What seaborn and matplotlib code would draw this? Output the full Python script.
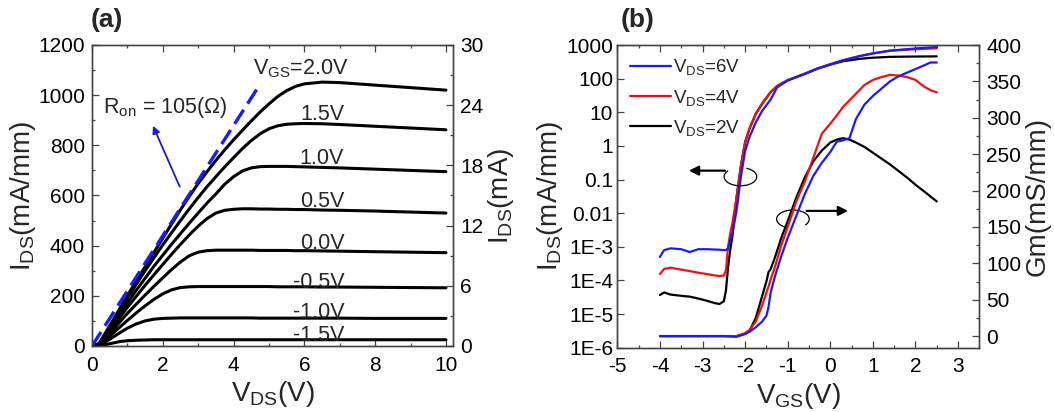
import numpy as np
import pandas as pd
import matplotlib
matplotlib.use("Agg")
import matplotlib.pyplot as plt
import seaborn as sns
from matplotlib.lines import Line2D
from matplotlib.patches import Arc
from matplotlib.ticker import MultipleLocator, FixedLocator, FixedFormatter, LogLocator, NullFormatter

# ---- panel (a): output curves, Ids (mA/mm) vs Vds (V)
vds = [0, 0.2, 0.4, 0.6, 0.8, 1.0, 1.25, 1.5, 1.75, 2.0, 2.25, 2.5, 2.75, 3.0, 3.25,
       3.5, 3.75, 4.0, 4.25, 4.5, 4.75, 5.0, 5.25, 5.5, 5.75, 6.0, 6.5, 7.0, 8.0, 9.0, 10.0]
vgs_labels = ['2.0V', '1.5V', '1.0V', '0.5V', '0.0V', '-0.5V', '-1.0V', '-1.5V']
ids_20 = [0, 10, 57, 105, 153, 201, 259, 316, 373, 430, 487, 543, 597, 648, 695,
          740, 782, 822, 860, 897, 933, 965, 995, 1018, 1035, 1045, 1052, 1050, 1040, 1030, 1020]
ids_15 = [0, 9, 52, 98, 144, 190, 246, 300, 352, 403, 452, 500, 547, 592, 635,
          675, 714, 751, 787, 819, 846, 866, 878, 884, 886, 887, 886, 883, 876, 869, 862]
ids_10 = [0, 8, 45, 87, 130, 172, 222, 270, 318, 362, 406, 448, 490, 530, 570,
          606, 645, 675, 698, 710, 715, 716, 716, 716, 715, 714, 712, 710, 705, 700, 695]
ids_05 = [0, 7, 40, 78, 116, 154, 198, 242, 284, 325, 366, 405, 443, 478, 508,
          530, 541, 545, 547, 547, 546, 546, 545, 545, 544, 544, 542, 541, 538, 534, 530]
ids_00 = [0, 6, 34, 66, 98, 130, 167, 203, 238, 272, 305, 335, 360, 374, 380,
          382, 382, 382, 382, 382, 381, 381, 381, 381, 380, 380, 379, 378, 376, 374, 372]
ids_m05 = [0, 5, 27, 52, 77, 102, 132, 160, 186, 208, 224, 233, 236, 237, 237,
           237, 237, 237, 237, 237, 237, 237, 236, 236, 236, 236, 235, 235, 234, 233, 232]
ids_m10 = [0, 3, 18, 36, 54, 71, 88, 100, 107, 110, 111, 112, 112, 112, 112,
           112, 112, 112, 112, 112, 111, 111, 111, 111, 111, 111, 111, 111, 110, 110, 110]
ids_m15 = [0, 1, 6, 12, 18, 21, 23, 24, 25, 25, 25, 25, 25, 25, 25,
           25, 25, 25, 25, 25, 25, 25, 25, 25, 25, 25, 25, 25, 25, 25, 25]
out_curves = [ids_20, ids_15, ids_10, ids_05, ids_00, ids_m05, ids_m10, ids_m15]
label_pos = [(4.55, 1104), (6.5, 921), (6.5, 749), (6.5, 575), (6.5, 410),
             (6.4, 255), (6.4, 134), (6.4, 40)]
ron_line_x = [0, 4.65]
ron_line_y = [0, 1022]

# ---- panel (b): transfer curves, Ids (log) and Gm vs Vgs
vgs_i = [-4.0, -3.9, -3.75, -3.5, -3.3, -3.1, -2.9, -2.7, -2.6, -2.5, -2.45, -2.4,
         -2.35, -2.3, -2.2, -2.1, -2.0, -1.9, -1.75, -1.6, -1.4, -1.25, -1.0,
         -0.65, -0.3, 0.0, 0.3, 0.7, 1.0, 1.4, 2.0, 2.5]
ids_6v = [5e-4, 8e-4, 9e-4, 8.5e-4, 7e-4, 8.5e-4, 8.5e-4, 8.3e-4, 8.2e-4, 8e-4, 8e-4, 9e-4,
          1.6e-3, 2.5e-3, 1.2e-2, 0.12, 0.7, 1.8, 5, 11, 24, 55, 88,
          130, 198, 265, 350, 470, 560, 680, 790, 880]
ids_4v = [1.55e-4, 2.2e-4, 2.4e-4, 2.1e-4, 1.9e-4, 1.7e-4, 1.55e-4, 1.4e-4, 1.35e-4, 1.4e-4, 2e-4, 1e-3,
          2.5e-3, 5e-3, 3e-2, 0.25, 1.3, 3.2, 9, 18, 40, 60, 90,
          132, 202, 270, 355, 475, 565, 680, 750, 800]
ids_2v = [3.7e-5, 4.4e-5, 3.8e-5, 3.5e-5, 3.3e-5, 2.9e-5, 2.5e-5, 2.1e-5, 2.0e-5, 2.4e-5, 5e-5, 2.5e-4,
          8e-4, 2e-3, 3e-2, 0.25, 1.3, 3.2, 9, 18, 40, 60, 90,
          132, 200, 262, 330, 390, 420, 445, 455, 460]

vgs_g = [-4.0, -3.0, -2.5, -2.2, -2.0, -1.9, -1.75, -1.6, -1.5, -1.45, -1.4, -1.3,
         -1.15, -1.0, -0.8, -0.6, -0.4, -0.2, 0.0, 0.15, 0.3, 0.45, 0.6, 0.8, 1.0,
         1.2, 1.4, 1.6, 1.8, 2.0, 2.2, 2.35, 2.5]
gm_6v = [0, 0, 0, -1, 3, 6, 12, 20, 28, 40, 60, 82, 110, 135, 165, 195, 220, 238,
         253, 267, 269, 272, 298, 318, 330, 340, 350, 357, 362, 367, 372, 376, 376]
gm_4v = [0, 0, 0, 0, 4, 8, 20, 42, 60, 68, 78, 95, 125, 150, 185, 212, 245, 278,
         292, 303, 315, 324, 333, 345, 352, 356, 359, 358, 356, 352, 343, 338, 335]
gm_2v = [0, 0, 0, 0, 3, 7, 25, 55, 75, 88, 92, 108, 135, 158, 190, 218, 240, 255,
         266, 270, 272, 270, 266, 260, 252, 244, 236, 227, 218, 208, 199, 192, 185]
log_ticks = [1e-6, 1e-5, 1e-4, 1e-3, 1e-2, 1e-1, 1, 10, 100, 1000]
log_tick_labels = ['1E-6', '1E-5', '1E-4', '1E-3', '0.01', '0.1', '1', '10', '100', '1000']

sns.set_style("ticks")
plt.rcParams['font.family'] = ['Liberation Sans', 'DejaVu Sans']
plt.rcParams['mathtext.fontset'] = 'custom'
plt.rcParams['mathtext.rm'] = 'Liberation Sans'
plt.rcParams['axes.unicode_minus'] = False
SP = '#444444'
TICK_FS = 15
LAB_FS = 20
TXT_FS = 15.5


def style_axis(ax):
    for s in ax.spines.values():
        s.set_color(SP)
        s.set_linewidth(1.0)
    ax.tick_params(which='both', direction='in', colors=SP, labelcolor='black',
                   labelsize=TICK_FS, width=0.9, pad=5)
    ax.tick_params(which='major', length=5)
    ax.tick_params(which='minor', length=2.5)
    ax.tick_params(axis='x', which='both', pad=7)


fig = plt.figure(figsize=(10.54, 4.12), dpi=100)
ax_a = fig.add_axes([0.0873, 0.1602, 0.3425, 0.7306])
ax_b = fig.add_axes([0.5857, 0.156, 0.3435, 0.7347])

# ---------------- (a)
for ys in out_curves:
    sns.lineplot(x=vds, y=ys, ax=ax_a, color='black', lw=2.2, legend=False)
ax_a.plot(ron_line_x, ron_line_y, color='#1a1aff', lw=2.4, dashes=(5, 2.2), zorder=3)
ax_a.set_xlim(0, 10.2)
ax_a.set_ylim(0, 1200)
ax_a.xaxis.set_major_locator(MultipleLocator(2))
ax_a.xaxis.set_minor_locator(MultipleLocator(1))
ax_a.yaxis.set_major_locator(MultipleLocator(200))
ax_a.yaxis.set_minor_locator(MultipleLocator(100))
style_axis(ax_a)
ax_a.tick_params(which='both', top=True, right=False)
ax_a.set_xlabel(r'$\mathregular{V_{DS}}$(V)', fontsize=LAB_FS, labelpad=3)
ax_a.set_ylabel(r'$\mathregular{I_{DS}}$(mA/mm)', fontsize=LAB_FS, labelpad=0)

for lbl, (tx, ty) in zip(vgs_labels, label_pos):
    if lbl == '2.0V':
        ax_a.text(tx, ty, r'$\mathregular{V_{GS}}$=2.0V', fontsize=TXT_FS, ha='left', va='center')
    else:
        ax_a.text(tx, ty, lbl, fontsize=TXT_FS, ha='center', va='center')
ax_a.text(0.3, 950, r'$\mathregular{R_{on}}$ = 105($\Omega$)', fontsize=TXT_FS, ha='left', va='center')
ax_a.annotate('', xy=(1.69, 888), xytext=(2.51, 625),
              arrowprops=dict(arrowstyle='-|>', color='#1a1acc', lw=1.3, mutation_scale=11))

ax_a2 = ax_a.twinx()
ax_a2.set_ylim(0, 30)
ax_a2.yaxis.set_major_locator(MultipleLocator(6))
ax_a2.yaxis.set_minor_locator(MultipleLocator(3))
style_axis(ax_a2)
ax_a2.tick_params(which='both', left=False, top=False)
ax_a2.set_ylabel(r'$\mathregular{I_{DS}}$(mA)', fontsize=LAB_FS, labelpad=2)

# ---------------- (b)
ax_b2 = ax_b.twinx()
for ys, c in [(ids_2v, 'black'), (ids_4v, '#ee1111'), (ids_6v, '#1a1aff')]:
    sns.lineplot(x=vgs_i, y=ys, ax=ax_b, color=c, lw=1.6, legend=False)
for ys, c in [(gm_2v, 'black'), (gm_4v, '#ee1111'), (gm_6v, '#1a1aff')]:
    sns.lineplot(x=vgs_g, y=ys, ax=ax_b2, color=c, lw=1.6, legend=False)

ax_b.set_yscale('log')
ax_b.set_ylim(1e-6, 1000)
ax_b.yaxis.set_major_locator(FixedLocator(log_ticks))
ax_b.yaxis.set_major_formatter(FixedFormatter(log_tick_labels))
ax_b.yaxis.set_minor_locator(LogLocator(base=10, subs=np.arange(2, 10)))
ax_b.yaxis.set_minor_formatter(NullFormatter())
ax_b.set_xlim(-5, 3.5)
ax_b.xaxis.set_major_locator(MultipleLocator(1))
ax_b.xaxis.set_minor_locator(MultipleLocator(0.5))
style_axis(ax_b)
ax_b.tick_params(which='both', top=True, right=False)
ax_b.tick_params(axis='y', which='both', pad=3)
ax_b.set_xlabel(r'$\mathregular{V_{GS}}$(V)', fontsize=LAB_FS, labelpad=3)
ax_b.set_ylabel(r'$\mathregular{I_{DS}}$(mA/mm)', fontsize=LAB_FS, labelpad=1)

ax_b2.set_ylim(-16, 400)
ax_b2.yaxis.set_major_locator(MultipleLocator(50))
ax_b2.yaxis.set_minor_locator(MultipleLocator(25))
style_axis(ax_b2)
ax_b2.tick_params(which='both', left=False, top=False)
ax_b2.set_ylabel('Gm(mS/mm)', fontsize=LAB_FS, labelpad=2)

handles = [Line2D([], [], color='#1a1aff', lw=1.6),
           Line2D([], [], color='#ee1111', lw=1.6),
           Line2D([], [], color='black', lw=1.6)]
ax_b2.legend(handles, [r'$\mathregular{V_{DS}}$=6V', r'$\mathregular{V_{DS}}$=4V',
                       r'$\mathregular{V_{DS}}$=2V'],
             loc='upper left', bbox_to_anchor=(0.0, 1.0), frameon=False,
             fontsize=13.5, handlelength=2.2, handletextpad=0.1, labelspacing=0.55,
             borderaxespad=0.25)

# curly markers pointing to each y axis
ax_b2.annotate('', xy=(0.19, 0.585), xytext=(0.305, 0.585), xycoords='axes fraction',
               arrowprops=dict(arrowstyle='-|>', color='black', lw=1.6, mutation_scale=14))
ax_b2.add_patch(Arc((0.34, 0.565), 0.09, 0.06, theta1=150, theta2=60,
                    transform=ax_b2.transAxes, color='black', lw=0.9))
ax_b2.annotate('', xy=(0.645, 0.452), xytext=(0.515, 0.452), xycoords='axes fraction',
               arrowprops=dict(arrowstyle='-|>', color='black', lw=1.6, mutation_scale=14))
ax_b2.add_patch(Arc((0.485, 0.425), 0.09, 0.06, theta1=330, theta2=240,
                    transform=ax_b2.transAxes, color='black', lw=0.9))

fig.text(0.086, 0.922, '(a)', fontsize=19, fontweight='bold', ha='left', va='bottom')
fig.text(0.589, 0.922, '(b)', fontsize=19, fontweight='bold', ha='left', va='bottom')

fig.savefig('out.png', dpi=100)
